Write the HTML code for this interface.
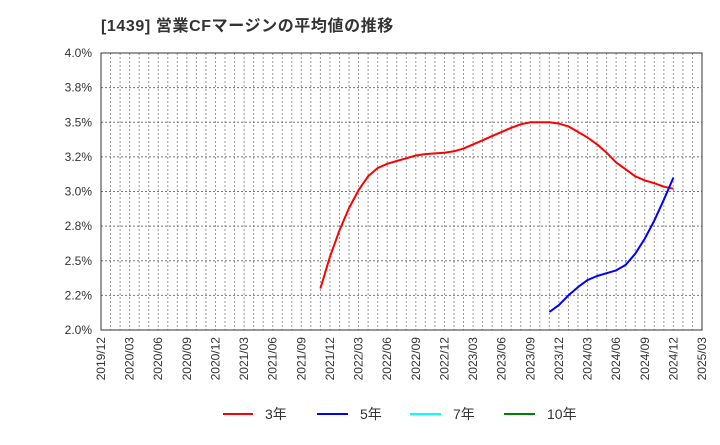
<!DOCTYPE html>
<html><head><meta charset="utf-8"><style>
body{margin:0;background:#fff;}
svg text{font-family:"Liberation Sans","Noto Sans CJK JP",sans-serif;}
</style></head><body>
<svg width="720" height="440" viewBox="0 0 720 440">
<text x="101" y="31" font-size="16" font-weight="bold" fill="#333" letter-spacing="0.6">[1439]  営業CFマージンの平均値の推移</text>
<g id="grid"></g>
<rect x="101" y="53" width="601" height="277" fill="none" stroke="#333" stroke-width="1"/>
<g id="yt"></g><g id="xt"></g><g id="series"></g>
<g>
<line x1="223" y1="414" x2="253" y2="414" stroke="#ff0000" stroke-width="2"/><text x="265" y="419" font-size="14" fill="#333">3年</text>
<line x1="317" y1="414" x2="348" y2="414" stroke="#0000ff" stroke-width="2"/><text x="360" y="419" font-size="14" fill="#333">5年</text>
<line x1="410" y1="414" x2="441" y2="414" stroke="#00ffff" stroke-width="2"/><text x="453" y="419" font-size="14" fill="#333">7年</text>
<line x1="504" y1="414" x2="535" y2="414" stroke="#008000" stroke-width="2"/><text x="547" y="419" font-size="14" fill="#333">10年</text>
</g>
</svg>
<script>
const yTicks=[2.0,2.25,2.5,2.75,3.0,3.25,3.5,3.75,4.0];
const yLabels=["2.0%","2.2%","2.5%","2.8%","3.0%","3.2%","3.5%","3.8%","4.0%"];
const xLabels=["2019/12","2020/03","2020/06","2020/09","2020/12","2021/03","2021/06","2021/09","2021/12","2022/03","2022/06","2022/09","2022/12","2023/03","2023/06","2023/09","2023/12","2024/03","2024/06","2024/09","2024/12","2025/03"];
const s3Start=23;
const s3=[2.30,2.53,2.72,2.88,3.01,3.11,3.17,3.20,3.22,3.24,3.26,3.27,3.275,3.28,3.29,3.31,3.34,3.37,3.40,3.43,3.46,3.485,3.50,3.50,3.50,3.49,3.47,3.43,3.39,3.34,3.28,3.21,3.16,3.11,3.08,3.06,3.035,3.02];
const s5Start=47;
const s5=[2.13,2.18,2.25,2.31,2.36,2.39,2.41,2.43,2.47,2.55,2.66,2.79,2.94,3.10];
const NS="http://www.w3.org/2000/svg";
const X0=101,X1=702,Y0=330,Y1=53,NM=63;
const xs=m=>X0+(X1-X0)*m/NM;
const ys=v=>Y0-(v-2.0)/(4.0-2.0)*(Y0-Y1);
function mk(t,a,p){const e=document.createElementNS(NS,t);for(const k in a)e.setAttribute(k,a[k]);p.appendChild(e);return e;}
const grid=document.getElementById('grid');
for(let m=1;m<NM;m++){const l=mk('line',{x1:xs(m),x2:xs(m),y1:Y1,y2:Y0,stroke:'#999','stroke-dasharray':'2,2','stroke-width':1},grid);

}
const yt=document.getElementById('yt');
yTicks.forEach((v,i)=>{if(i>0&&i<yTicks.length-1){const l=mk('line',{x1:X0,x2:X1,y1:ys(v),y2:ys(v),stroke:'#777','stroke-dasharray':'2,2','stroke-width':1},grid);

}
const t=mk('text',{x:92,y:ys(v)+4,'text-anchor':'end','font-size':12,fill:'#333'},yt);t.textContent=yLabels[i];

});
const xt=document.getElementById('xt');
xLabels.forEach((s,i)=>{const x=xs(i*3)+4;const t=mk('text',{x:x,y:337,'text-anchor':'end','font-size':12,fill:'#333',transform:`rotate(-90 ${x} 337)`},xt);t.textContent=s;

});
const g=document.getElementById('series');
function line(arr,st,col,name){const d=arr.map((v,i)=>(i?'L':'M')+xs(st+i).toFixed(1)+','+ys(v).toFixed(1)).join('');
const p=mk('path',{d:d,fill:'none',stroke:col,'stroke-width':2,'stroke-linejoin':'round'},g);

}
line(s3,s3Start,'#ff0000','series-3y');
line(s5,s5Start,'#0000ff','series-5y');
</script>
</body></html>
